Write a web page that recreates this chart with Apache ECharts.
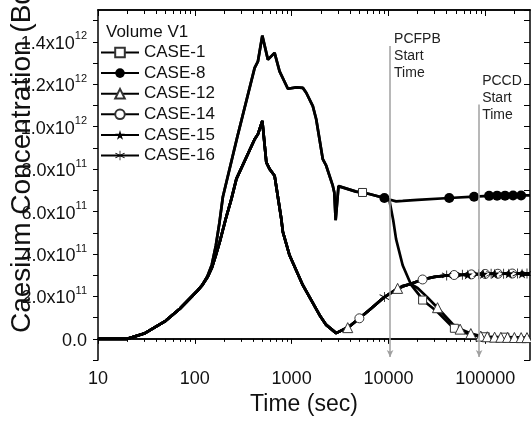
<!DOCTYPE html>
<html>
<head>
<meta charset="utf-8">
<script src="https://cdn.jsdelivr.net/npm/echarts@6/dist/echarts.min.js"></script>
<style>
html,body{margin:0;padding:0;background:#fff;}
#chart{width:531px;height:421px;}
</style>
</head>
<body>
<div id="chart"></div>
<script>
// time (sec) / concentration pairs
const curveA = [[10,0],[20,0],[30,2.5e10],[50,8.5e10],[70,1.42e11],[104,2.22e11],[120,2.55e11],[135,2.95e11],[150,3.5e11],[165,4.4e11],[180,5.5e11],[195,6.7e11],[274,9.5e11],[415,1.277e12],[449,1.308e12],[498,1.429e12],[569,1.316e12],[667,1.348e12],[751,1.261e12],[915,1.179e12],[1116,1.185e12],[1306,1.183e12],[1416,1.16e12],[1656,1.097e12],[1795,1.035e12],[2099,8.47e11],[2276,8.16e11],[2661,7.22e11],[2760,6.9e11],[2850,5.6e11],[3050,7.2e11],[4636,6.94e11],[6356,6.83e11],[9080,6.64e11],[10200,6.57e11]]
const curveB = [[10,0],[20,0],[30,2.5e10],[50,8.5e10],[70,1.42e11],[104,2.22e11],[120,2.55e11],[135,2.9e11],[150,3.35e11],[165,3.95e11],[181,4.57e11],[210,5.7e11],[239,6.6e11],[269,7.54e11],[415,9.41e11],[449,9.65e11],[498,1.027e12],[548,8.32e11],[593,8.0e11],[667,7.69e11],[782,5.66e11],[812,5.04e11],[952,3.94e11],[1306,2.53e11],[1941,1.13e11],[2276,6.6e10],[2884,2.7e10],[3954,5.8e10],[5012,9.7e10],[6356,1.36e11],[9080,1.97e11],[12000,2.32e11]]

const tailCase1 = [[10400,6.55e11],[11200,5.6e11],[12000,4.7e11],[14030,3.47e11],[17100,2.56e11],[20840,2.06e11],[22540,1.83e11],[32000,1.28e11],[45900,5.6e10],[60000,3.0e10],[75000,1.7e10],[90000,1.1e10],[150000,8e9],[290000,6e9]]
const tailCase8 = [[10400,6.52e11],[12000,6.48e11],[14030,6.5e11],[20000,6.55e11],[42460,6.64e11],[76700,6.7e11],[110000,6.74e11],[290000,6.76e11]]
const tailCase12 = [[14000,2.5e11],[17100,2.58e11],[20000,2.4e11],[25000,1.98e11],[32130,1.47e11],[45900,7.0e10],[55000,4.6e10],[71000,2.5e10],[90000,1.3e10],[120000,8e9],[290000,6e9]]
const tailRise = [[14000,2.47e11],[17100,2.6e11],[22540,2.8e11],[30000,2.92e11],[42460,3.0e11],[63100,3.03e11],[93500,3.06e11],[290000,3.08e11]]

// points where a marker is drawn
const marksCase1 = [[5400,6.9e11],[22540,1.83e11],[48000,5e10],[100000,1e10],[160000,8e9]]
const marksCase8 = [[9080,6.64e11],[42460,6.64e11],[76700,6.7e11],[109600,6.74e11],[132500,6.75e11],[160200,6.75e11],[193800,6.76e11],[234600,6.76e11]]
const marksCase12 = [[3800,5.3e10],[12450,2.38e11],[32130,1.47e11],[55000,4.6e10],[71000,2.5e10],[90000,1.3e10],[105000,1e10],[125000,8e9],[145000,7.5e9],[170000,7e9],[200000,6.5e9],[235000,6e9],[270000,6e9]]
const marksCase14 = [[5012,9.7e10],[22540,2.8e11],[47700,3.01e11],[72000,3.04e11],[100000,3.06e11],[135000,3.07e11],[190000,3.08e11]]
const marksCase15 = [[66000,3.03e11],[95000,3.06e11],[125000,3.07e11],[175000,3.08e11],[240000,3.08e11]]
const marksCase16 = [[9080,1.97e11],[40000,2.99e11],[58000,3.02e11],[85000,3.05e11],[115000,3.07e11],[155000,3.07e11],[215000,3.08e11],[270000,3.08e11]]

const caseNames = ['CASE-1','CASE-8','CASE-12','CASE-14','CASE-15','CASE-16']

const xMajorTicks = [10,100,1000,10000,100000]
const xMinorTicks = []
for (const d of [10,100,1000,10000,100000]) {
  for (let k = 2; k <= 9; k++) if (d*k < 290000) xMinorTicks.push(d*k)
}

const yTickValues = [0,2e11,4e11,6e11,8e11,1e12,1.2e12,1.4e12]
const yTickMantissa = ['0.0','2.0','4.0','6.0','8.0','1.0','1.2','1.4']
const yTickExp = ['','11','11','11','11','12','12','12']

// event times (PCFPB / PCCD start)
const eventTimes = [10400, 86500]
const eventTops = [1.38e12, 1.105e12]
const eventLabels = ['PCFPB\nStart\nTime', 'PCCD\nStart\nTime']

const font = "'Liberation Sans', Arial, sans-serif"
const star = 'path://M10,0 L12.23,6.93 L19.51,6.91 L13.61,11.17 L15.88,18.09 L10,13.8 L4.12,18.09 L6.39,11.17 L0.49,6.91 L7.77,6.93 Z'
const asterisk = 'path://M9.3,0 L10.7,0 L10.7,20 L9.3,20 Z M0.9,5.7 L1.7,4.3 L19.1,14.3 L18.3,15.7 Z M1.7,15.7 L0.9,14.3 L18.3,4.3 L19.1,5.7 Z'

function buildData(line, marks) {
  const pts = line.map(p => ({ value: p, symbol: 'none' }))
    .concat(marks.map(p => ({ value: p })))
  pts.sort((a, b) => a.value[0] - b.value[0])
  return pts
}

function caseSeries(name, line, marks, symbol, size, filled) {
  return {
    name: name,
    type: 'line',
    data: buildData(line, marks),
    symbol: symbol,
    symbolSize: size,
    showAllSymbol: true,
    lineStyle: { color: '#000', width: 2.7 },
    itemStyle: filled
      ? { color: '#000', borderColor: '#000', borderWidth: 0 }
      : { color: '#fff', borderColor: '#333', borderWidth: 1 },
    emphasis: { disabled: true },
    z: 3
  }
}

const series = [
  caseSeries('CASE-1', curveA.concat(tailCase1), marksCase1, 'rect', 8, false),
  caseSeries('CASE-8', curveA.concat(tailCase8), marksCase8, 'circle', 10, true),
  caseSeries('CASE-12', curveB.concat(tailCase12), marksCase12, 'triangle', 10, false),
  caseSeries('CASE-14', curveB.concat(tailRise), marksCase14, 'circle', 9, false),
  caseSeries('CASE-15', curveB.concat(tailRise), marksCase15, star, 10, true),
  caseSeries('CASE-16', curveB.concat(tailRise), marksCase16, asterisk, 10, true)
]

series[0].markLine = {
  silent: true,
  symbol: ['none', 'arrow'],
  symbolSize: [5, 7],
  label: { show: false },
  lineStyle: { color: '#a0a0a0', width: 1.5, type: 'solid' },
  data: eventTimes.map((t, i) => [{ coord: [t, eventTops[i]] }, { coord: [t, -8.5e10] }])
}
series[0].markPoint = {
  silent: true,
  symbol: 'circle',
  symbolSize: 0,
  data: eventTimes.map((t, i) => ({
    coord: [t, eventTops[i]],
    name: eventLabels[i],
    label: { position: i === 0 ? [4, -15] : [3, -32] }
  })),
  label: {
    show: true,
    formatter: p => p.name,
    align: 'left',
    verticalAlign: 'top',
    fontFamily: font,
    fontSize: 14,
    lineHeight: 17,
    color: '#222'
  }
}

function yLabel(v) {
  for (let i = 0; i < yTickValues.length; i++) {
    if (Math.abs(v - yTickValues[i]) < 1e9) {
      if (yTickExp[i] === '') return '{m|' + yTickMantissa[i] + '}'
      return '{m|' + yTickMantissa[i] + 'x10}{e|' + yTickExp[i] + '}'
    }
  }
  return ''
}

const axisLineStyle = { color: '#000', width: 1.5 }

function logAxis(position, ticks, len, inside, labels) {
  return {
    type: 'log',
    position: position,
    min: 10,
    max: 290000,
    logBase: 10,
    axisLine: { show: true, lineStyle: axisLineStyle },
    axisTick: { show: true, inside: inside, length: len, customValues: ticks, lineStyle: { color: '#000', width: 1 } },
    axisLabel: labels ? {
      show: true, customValues: xMajorTicks, formatter: v => String(Math.round(v)),
      fontFamily: font, fontSize: 18, color: '#111', margin: 10
    } : { show: false },
    splitLine: { show: false },
    minorTick: { show: false }
  }
}

const xBottom = logAxis('bottom', xMajorTicks, 5, false, true)
xBottom.name = 'Time (sec)'
xBottom.nameLocation = 'middle'
xBottom.nameGap = 28
xBottom.nameTextStyle = { fontFamily: font, fontSize: 23, color: '#111', padding: [0, 20, 0, 0] }

const option = {
  animation: false,
  backgroundColor: '#fff',
  grid: { left: 98, right: 1, top: 10, bottom: 59, containLabel: false },
  title: {
    text: 'Volume V1',
    left: 106, top: 24, padding: 0,
    textStyle: { fontFamily: font, fontSize: 17, fontWeight: 'normal', color: '#111' }
  },
  legend: {
    data: caseNames,
    orient: 'vertical',
    left: 100, top: 44, padding: 0,
    itemWidth: 38, itemHeight: 12, itemGap: 3.6,
    textStyle: { fontFamily: font, fontSize: 17, color: '#111' },
    selectedMode: false
  },
  xAxis: [
    xBottom,
    logAxis('bottom', xMinorTicks, 3, false, false),
    logAxis('top', xMajorTicks, 6, true, false),
    logAxis('top', xMinorTicks, 4, true, false)
  ],
  yAxis: [
    {
      type: 'value', position: 'left',
      min: -1e11, max: 1.55e12, interval: 1e11,
      axisLine: { show: true, lineStyle: axisLineStyle },
      axisTick: { show: true, inside: false, length: 5, lineStyle: { color: '#000', width: 1 } },
      axisLabel: {
        show: true, formatter: yLabel, margin: 11, showMaxLabel: false,
        rich: {
          m: { fontFamily: font, fontSize: 18, color: '#111', lineHeight: 22, verticalAlign: 'bottom' },
          e: { fontFamily: font, fontSize: 11, color: '#111', lineHeight: 12, verticalAlign: 'top' }
        }
      },
      splitLine: { show: false }
    },
    {
      type: 'value', position: 'right',
      min: -1e11, max: 1.55e12, interval: 1e11,
      axisLine: { show: true, lineStyle: axisLineStyle },
      axisTick: { show: true, inside: true, length: 6, lineStyle: { color: '#000', width: 1 } },
      axisLabel: { show: false },
      splitLine: { show: false }
    }
  ],
  graphic: [{
    type: 'text',
    x: 22, y: 333,
    rotation: Math.PI / 2,
    style: {
      text: 'Caesium Concentration (Bq)',
      fontFamily: font, fontSize: 28,
      fill: '#111', align: 'left', verticalAlign: 'middle'
    }
  }],
  series: series
}

const myChart = echarts.init(document.getElementById('chart'))
myChart.setOption(option)
</script>
</body>
</html>
